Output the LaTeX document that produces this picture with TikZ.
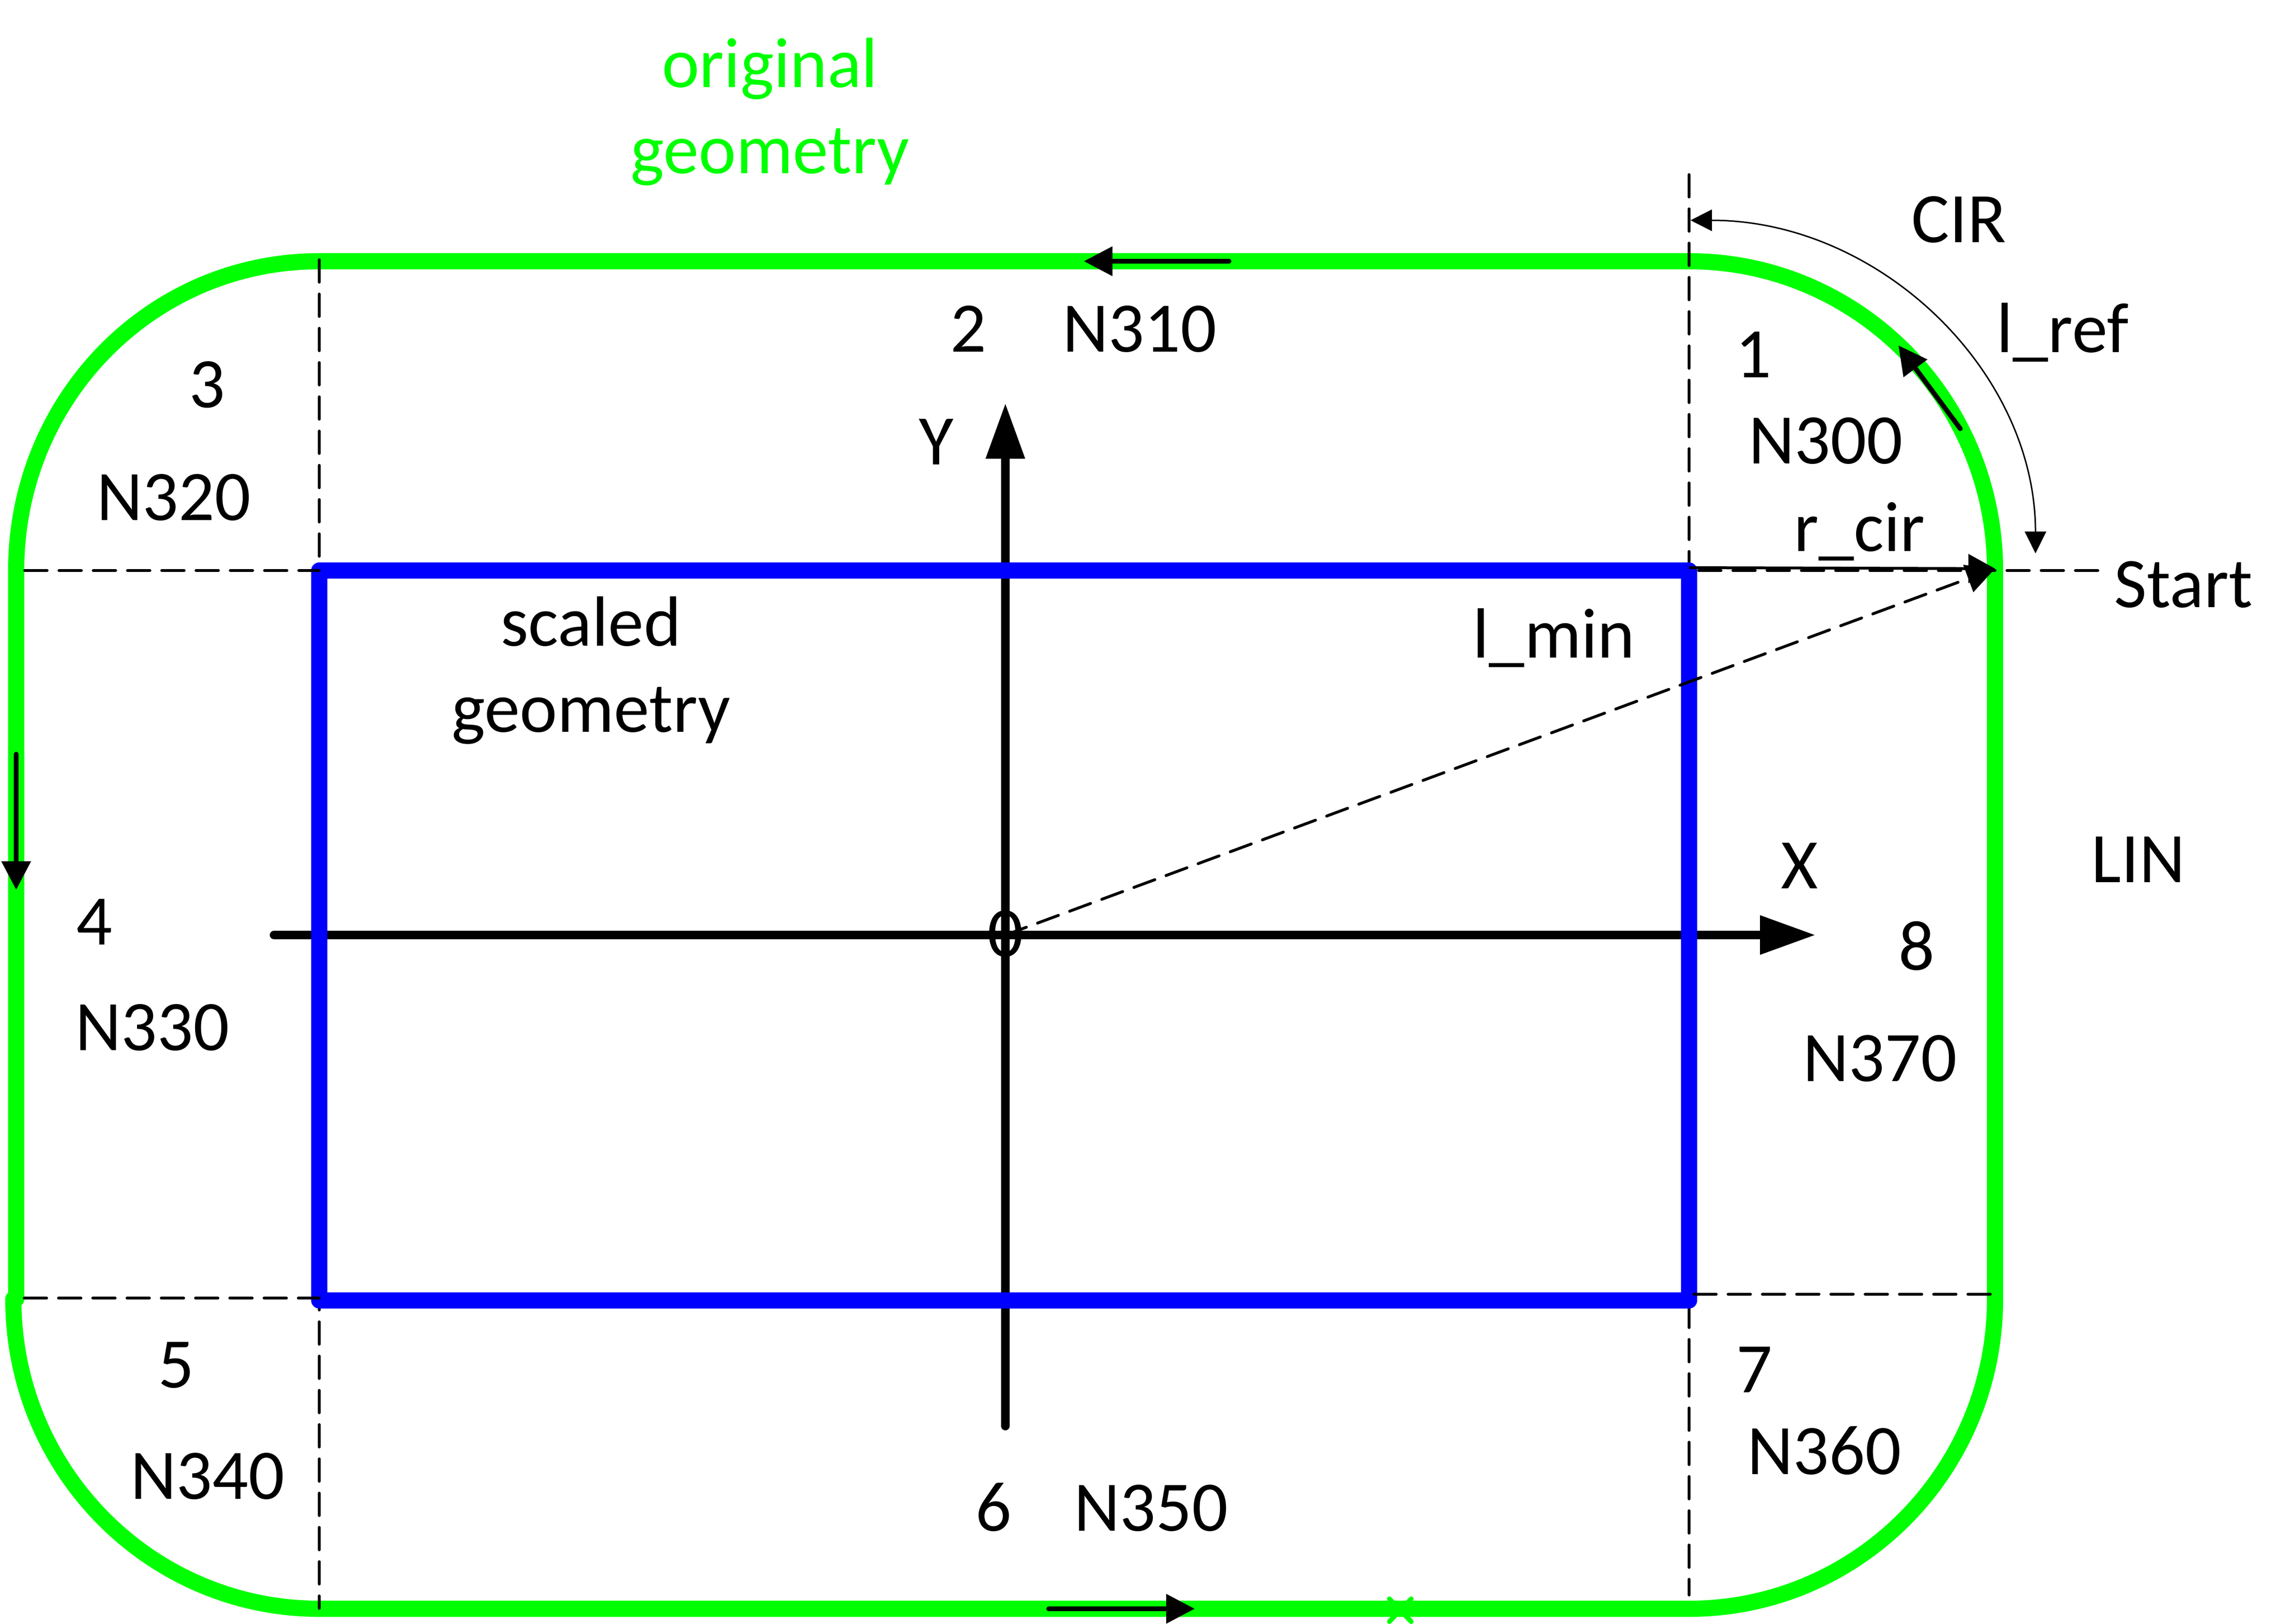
\documentclass[tikz,border=0pt]{standalone}
\usepackage{fontspec}
\setmainfont{Carlito}
\usetikzlibrary{arrows.meta}
\begin{document}
\begin{tikzpicture}[y=-1cm,
    lbl/.style={anchor=base,inner sep=0pt,font=\fontsize{42.5}{52}\selectfont},
    geomline/.style={green,line width=.34cm,line cap=round,line join=round},
    axisline/.style={black,line width=.18cm,line cap=round,-{Triangle[length=1.17cm,width=.78cm]}},
    dirarrow/.style={black,line width=.1cm,line cap=round,-{Triangle[length=.6cm,width=.6cm]}},
    helpline/.style={black,line width=.06cm,line cap=round,dash pattern=on .47cm off .25cm},
    dimarrow/.style={black,line width=.06cm,-{Triangle[length=.56cm,width=.6cm]}}]
        \useasboundingbox (0,0) rectangle (48.13,34.13);
        \coordinate (tl) at (6.71,11.99);
        \coordinate (tr) at (35.5,11.99);
        \coordinate (br) at (35.5,27.33);
        \coordinate (bl) at (6.71,27.33);
        \coordinate (origin) at (21.13,19.65);
        \coordinate (start) at (41.93,11.95);

        \draw[geomline] (0.28,27.30) .. controls (0.28,30.9) and (3.16,33.81) .. (6.71,33.81);
        \draw[geomline] (0.34,27.30) -- (0.34,11.99) .. controls (0.34,8.40) and (3.16,5.49) .. (6.71,5.49)
          -- (35.5,5.49) .. controls (39.05,5.49) and (41.93,8.40) .. (41.93,11.99)
          -- (41.93,27.30) .. controls (41.93,30.9) and (39.05,33.81) .. (35.5,33.81) -- (6.71,33.81);
        \draw[green,line width=.1cm,line cap=round] (29.2,33.6) -- (29.66,34.08);
        \draw[green,line width=.1cm,line cap=round] (29.66,33.6) -- (29.2,34.08);

        \draw[axisline] (5.76,19.65) -- (38.16,19.65);
        \draw[axisline] (21.13,29.97) -- (21.13,8.47);
        \draw[helpline] (35.5,3.67) -- (35.5,33.52);
        \draw[helpline] (6.71,5.46) -- (6.71,33.8);
        \draw[blue,line width=.34cm,line join=round] (tl) -- (tr) -- (br) -- (bl) -- cycle;

        \draw[helpline] (0.52,11.99) -- (tl);
        \draw[helpline] (35.7,11.99) -- (44.09,11.99);
        \draw[helpline] (0.51,27.28) -- (6.71,27.28);
        \draw[helpline] (35.6,27.2) -- (41.93,27.2);
        \draw[helpline,-{Triangle[length=.6cm,width=.6cm]}] (origin) -- (start);
        \draw[dimarrow] (35.5,11.93) -- (start);

        \draw[dirarrow] (25.83,5.49) -- (22.78,5.49);
        \draw[dirarrow] (0.34,15.85) -- (0.34,18.7);
        \draw[dirarrow] (22.04,33.81) -- (25.11,33.81);
        \draw[dirarrow] (41.2,9.01) -- (39.9,7.26);
        \draw[black,line width=.03cm,{Triangle[length=.45cm,width=.45cm]}-{Triangle[length=.46cm,width=.45cm]}]
          (35.53,4.63) .. controls (39.5,4.63) and (42.78,7.8) .. (42.78,11.63);

        \node[lbl,green] (orig1) at (16.18,1.84) {original};
        \node[lbl,green] (orig2) at (16.18,3.65) {geometry};
        \node[lbl] (scaled1) at (12.42,13.57) {scaled};
        \node[lbl] (scaled2) at (12.42,15.38) {geometry};
        \node[lbl] (cir) at (41.17,5.1) {CIR};
        \node[lbl] (lref) at (43.35,7.41) {l\_ref};
        \node[lbl] (rcir) at (39.08,11.58) {r\_cir};
        \node[lbl] (lmin) at (32.66,13.82) {l\_min};
        \node[lbl] (startlbl) at (45.89,12.76) {Start};
        \node[lbl] (lin) at (44.94,18.54) {LIN};
        \node[lbl] (xlbl) at (37.82,18.67) {X};
        \node[lbl] (ylbl) at (19.68,9.76) {Y};
        \node[lbl] (zero) at (21.13,20.1) {0};
        \foreach \name/\px/\py/\txt in {a1/36.85/7.94/1, b1/38.37/9.74/N300, a2/20.35/7.4/2, b2/23.95/7.4/N310,
            a3/4.35/8.57/3, b3/3.65/10.93/N320, a4/1.98/19.85/4, b4/3.2/22.07/N330,
            a5/3.7/29.16/5, b5/4.36/31.5/N340, a6/20.88/32.17/6, b6/24.19/32.17/N350,
            a7/36.87/29.26/7, b7/38.34/30.98/N360, a8/40.28/20.38/8, b8/39.51/22.72/N370}{
          \node[lbl] (\name) at (\px,\py) {\txt};
        }
      \end{tikzpicture}
\end{document}
